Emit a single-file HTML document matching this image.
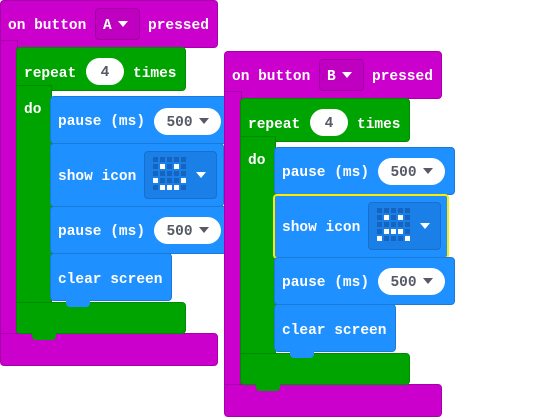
<!DOCTYPE html><html><head><style>
body{margin:0;width:558px;height:417px;background:#fff;position:relative;overflow:hidden;font-family:"Liberation Mono",monospace;font-weight:bold;font-size:14.5px;color:#fff}
.g{position:absolute;left:0;top:0}
.b{position:absolute;border-radius:4px}
.m{background:#cc00cc;border:1px solid #a800a8}
.gr{background:#00a400;border:1px solid #008a00}
.bl{background:#1e90ff;border:1px solid #1a7ad6}
.t{position:absolute;white-space:pre;line-height:16px;margin-top:2px}
.pill{position:absolute;background:#fff;border-radius:14px;color:#555a66;height:25px;padding-top:2px;line-height:27px;text-align:center}
.dd{position:absolute;background:#c000c0;border:1px solid #a000a0;border-radius:4px}
.tri{display:inline-block;width:0;height:0;border-left:5px solid transparent;border-right:5px solid transparent;border-top:6px solid currentColor;vertical-align:2px;margin-left:6px}
.notch{position:absolute;height:7px;border-radius:0 0 4px 4px}
.icon{position:absolute;width:71px;height:46px;background:#1a80e8;border:1px solid #1670cc;border-radius:4px}
.c{position:absolute;width:5px;height:5px;background:#1565c0}
.c.on{background:#fff}
</style></head><body>

<!-- Stack A -->
<div class="g">
 <div class="b m" style="left:0;top:0;width:216px;height:46px"></div>
 <div class="b m" style="left:0;top:40px;width:16px;height:300px;border-radius:0"></div>
 <div class="b m" style="left:0;top:333px;width:216px;height:31px;border-radius:0 4px 4px 4px"></div>
 <div class="t" style="left:8px;top:16px">on button</div>
 <div class="dd" style="left:95px;top:8px;width:43px;height:30px"></div>
 <div class="t" style="left:103px;top:16px">A<span class="tri" style="color:#fff"></span></div>
 <div class="t" style="left:148px;top:16px">pressed</div>

 <div class="b gr" style="left:16px;top:47px;width:168px;height:42px"></div>
 <div class="b gr" style="left:16px;top:85px;width:34px;height:225px;border-radius:0"></div>
 <div class="b gr" style="left:16px;top:302px;width:168px;height:30px;border-radius:0 4px 4px 4px"></div>
 <div class="notch" style="left:32px;top:333px;width:24px;background:#00a400"></div>
 <div class="t" style="left:24px;top:64px">repeat</div>
 <div class="pill" style="left:86px;top:58px;width:38px">4</div>
 <div class="t" style="left:133px;top:64px">times</div>
 <div class="t" style="left:24px;top:100px">do</div>

 <div class="b bl" style="left:50px;top:96px;width:180px;height:46px"></div>
 <div class="t" style="left:58px;top:112px">pause (ms)</div>
 <div class="pill" style="left:154px;top:108px;width:67px">500<span class="tri" style="color:#555a66"></span></div>

 <div class="b bl" style="left:50px;top:143px;width:172px;height:62px"></div>
 <div class="t" style="left:58px;top:167px">show icon</div>
 <div class="icon" style="left:144px;top:151px"></div>
 <div class="t" style="left:196px;top:167px"><span class="tri" style="margin:0"></span></div>

 <div class="b bl" style="left:50px;top:206px;width:180px;height:46px"></div>
 <div class="t" style="left:58px;top:222px">pause (ms)</div>
 <div class="pill" style="left:154px;top:217px;width:67px">500<span class="tri" style="color:#555a66"></span></div>

 <div class="b bl" style="left:50px;top:253px;width:120px;height:46px"></div>
 <div class="notch" style="left:66px;top:300px;width:24px;background:#1e90ff"></div>
 <div class="t" style="left:58px;top:270px">clear screen</div>
</div>

<!-- Stack B -->
<div class="g" style="left:224px;top:51px">
 <div class="b m" style="left:0;top:0;width:216px;height:46px"></div>
 <div class="b m" style="left:0;top:40px;width:16px;height:300px;border-radius:0"></div>
 <div class="b m" style="left:0;top:333px;width:216px;height:31px;border-radius:0 4px 4px 4px"></div>
 <div class="t" style="left:8px;top:16px">on button</div>
 <div class="dd" style="left:95px;top:8px;width:43px;height:30px"></div>
 <div class="t" style="left:103px;top:16px">B<span class="tri" style="color:#fff"></span></div>
 <div class="t" style="left:148px;top:16px">pressed</div>

 <div class="b gr" style="left:16px;top:47px;width:168px;height:42px"></div>
 <div class="b gr" style="left:16px;top:85px;width:34px;height:225px;border-radius:0"></div>
 <div class="b gr" style="left:16px;top:302px;width:168px;height:30px;border-radius:0 4px 4px 4px"></div>
 <div class="notch" style="left:32px;top:333px;width:24px;background:#00a400"></div>
 <div class="t" style="left:24px;top:64px">repeat</div>
 <div class="pill" style="left:86px;top:58px;width:38px">4</div>
 <div class="t" style="left:133px;top:64px">times</div>
 <div class="t" style="left:24px;top:100px">do</div>

 <div class="b bl" style="left:50px;top:96px;width:179px;height:46px"></div>
 <div class="t" style="left:58px;top:112px">pause (ms)</div>
 <div class="pill" style="left:154px;top:107px;width:67px">500<span class="tri" style="color:#555a66"></span></div>

 <div class="b bl" style="left:49px;top:143px;width:172px;height:61px;border:2px solid #ffeb00"></div>
 <div class="t" style="left:58px;top:167px">show icon</div>
 <div class="icon" style="left:144px;top:151px"></div>
 <div class="t" style="left:196px;top:167px"><span class="tri" style="margin:0"></span></div>

 <div class="b bl" style="left:50px;top:206px;width:179px;height:46px"></div>
 <div class="t" style="left:58px;top:222px">pause (ms)</div>
 <div class="pill" style="left:154px;top:217px;width:67px">500<span class="tri" style="color:#555a66"></span></div>

 <div class="b bl" style="left:50px;top:253px;width:120px;height:46px"></div>
 <div class="notch" style="left:66px;top:300px;width:24px;background:#1e90ff"></div>
 <div class="t" style="left:58px;top:270px">clear screen</div>
</div>

<div id="iconA" style="position:absolute;left:153px;top:157px"></div>
<div id="iconB" style="position:absolute;left:377px;top:208px"></div>
<script>
function grid(id,on){var el=document.getElementById(id),h='';for(var r=0;r<5;r++)for(var c=0;c<5;c++){h+='<div class="c'+(on.indexOf(r*5+c)>=0?' on':'')+'" style="left:'+(c*7)+'px;top:'+(r*7)+'px"></div>';}el.innerHTML=h;}
grid('iconA',[6,8,15,19,21,22,23]);
grid('iconB',[6,8,16,17,18,20,24]);
</script>
</body></html>
